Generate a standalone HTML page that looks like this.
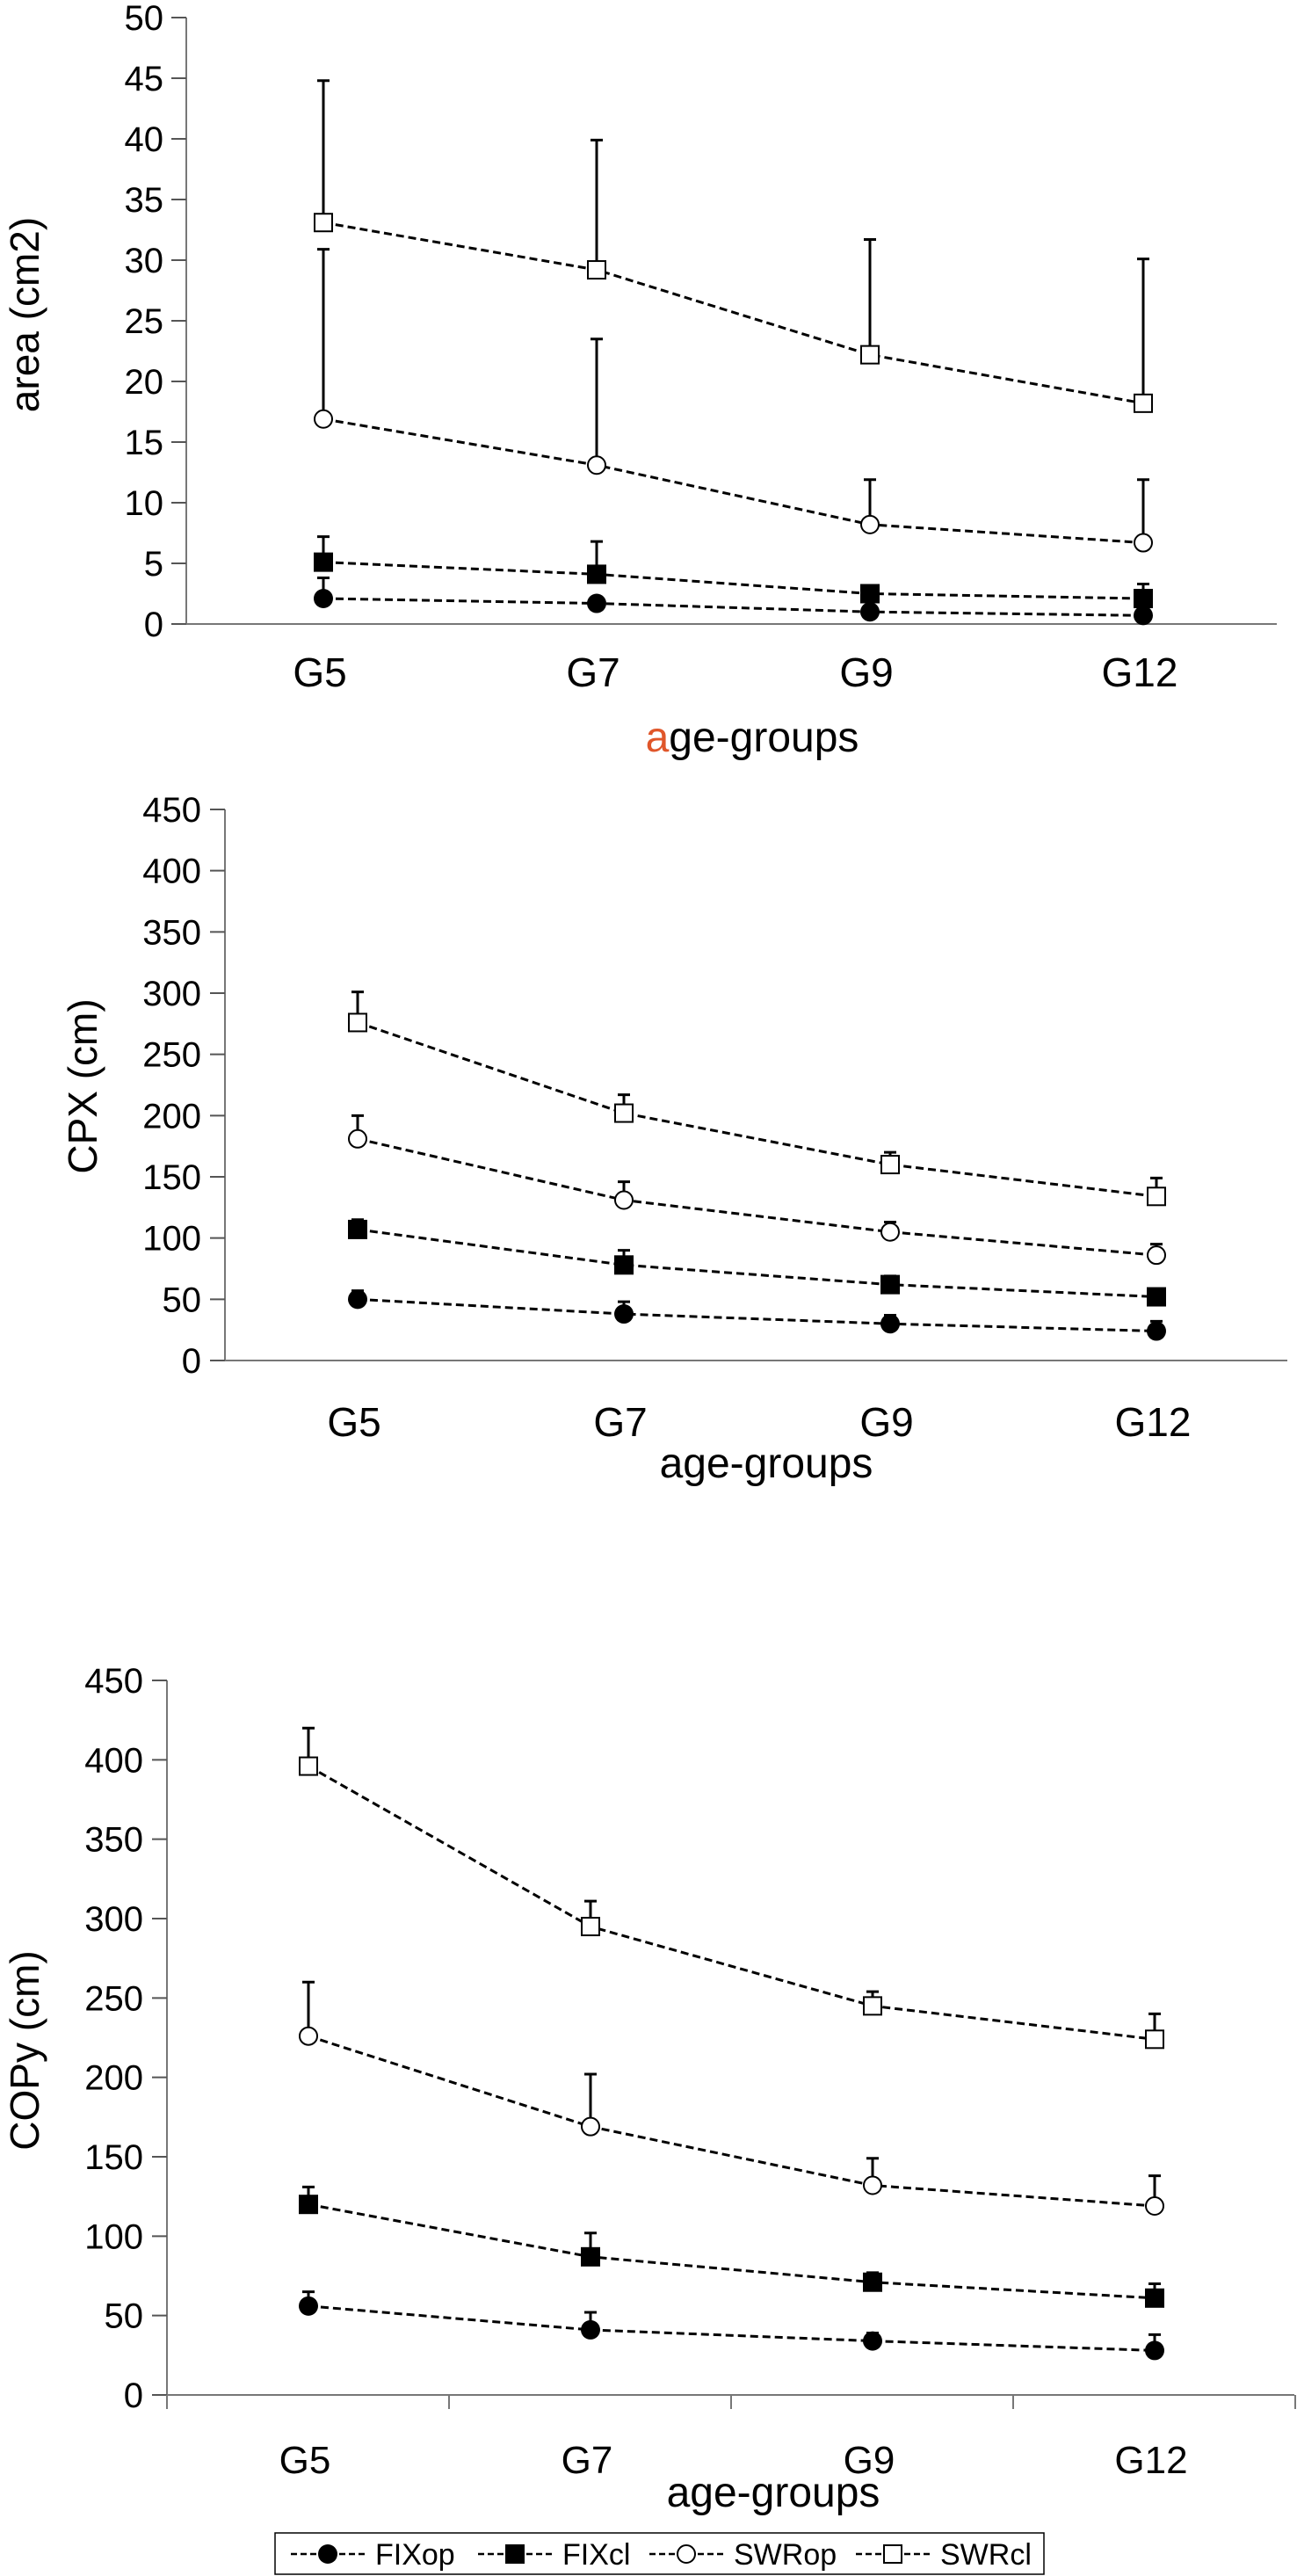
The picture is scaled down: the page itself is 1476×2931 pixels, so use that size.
<!DOCTYPE html>
<html><head><meta charset="utf-8"><style>
html,body{margin:0;padding:0;background:#fff;width:1476px;height:2931px;overflow:hidden}
svg{display:block}
text{font-family:"Liberation Sans",Arial,sans-serif;fill:#000}
</style></head><body>
<svg id="fig" width="1476" height="2931" viewBox="0 0 1476 2931" xmlns="http://www.w3.org/2000/svg"></svg>
<script>
const categories = ["G5","G7","G9","G12"];
const seriesNames = ["FIXop","FIXcl","SWRop","SWRcl"];
// chart 1: area (cm2)
const areaFIXop = [2.1,1.7,1.0,0.7];
const areaFIXopErr = [3.8,2.2,1.5,1.2];
const areaFIXcl = [5.1,4.1,2.5,2.1];
const areaFIXclErr = [7.2,6.8,3.1,3.3];
const areaSWRop = [16.9,13.1,8.2,6.7];
const areaSWRopErr = [30.9,23.5,11.9,11.9];
const areaSWRcl = [33.1,29.2,22.2,18.2];
const areaSWRclErr = [44.8,39.9,31.7,30.1];
const areaTicks = [0,5,10,15,20,25,30,35,40,45,50];
// chart 2: CPX (cm)
const cpxFIXop = [50,38,30,24];
const cpxFIXopErr = [57,48,37,32];
const cpxFIXcl = [107,78,62,52];
const cpxFIXclErr = [115,90,69,57];
const cpxSWRop = [181,131,105,86];
const cpxSWRopErr = [200,146,113,95];
const cpxSWRcl = [276,202,160,134];
const cpxSWRclErr = [301,217,170,149];
const cpxTicks = [0,50,100,150,200,250,300,350,400,450];
// chart 3: COPy (cm)
const copFIXop = [56,41,34,28];
const copFIXopErr = [65,52,39,38];
const copFIXcl = [120,87,71,61];
const copFIXclErr = [131,102,77,70];
const copSWRop = [226,169,132,119];
const copSWRopErr = [260,202,149,138];
const copSWRcl = [396,295,245,224];
const copSWRclErr = [420,311,254,240];
const copTicks = [0,50,100,150,200,250,300,350,400,450];

const NS="http://www.w3.org/2000/svg";
const svg=document.getElementById('fig');
function mk(tag,attrs,parent){const e=document.createElementNS(NS,tag);for(const k in attrs)e.setAttribute(k,attrs[k]);(parent||svg).appendChild(e);return e;}

function drawMarker(g,kind,x,y,s){
  let m;
  if(kind==="FIXop") m=mk('circle',{cx:x,cy:y,r:s/2,fill:'#000'},g);
  else if(kind==="FIXcl") m=mk('rect',{x:x-s/2,y:y-s/2,width:s,height:s,fill:'#000'},g);
  else if(kind==="SWRop") m=mk('circle',{cx:x,cy:y,r:s/2-1,fill:'#fff',stroke:'#000','stroke-width':2},g);
  else m=mk('rect',{x:x-s/2+1,y:y-s/2+1,width:s-2,height:s-2,fill:'#fff',stroke:'#000','stroke-width':2},g);
  return m;
}

function chart(cfg){
  const g=mk('g',{});
  
  
  const yS=v=>cfg.y0-(v-cfg.ticks[0])/(cfg.ticks[cfg.ticks.length-1]-cfg.ticks[0])*(cfg.y0-cfg.yTop);
  const xS=i=>cfg.cx0+i*cfg.step;
  // axes
  const ya=mk('line',{x1:cfg.ax,y1:cfg.yTop,x2:cfg.ax,y2:cfg.y0,stroke:'#777','stroke-width':2},g);
  
  
  const xa=mk('line',{x1:cfg.ax,y1:cfg.y0,x2:cfg.axEnd,y2:cfg.y0,stroke:'#777','stroke-width':2},g);
  
  
  cfg.ticks.forEach(t=>{
    const y=yS(t);
    mk('line',{x1:cfg.ax-17,y1:y,x2:cfg.ax,y2:y,stroke:'#555','stroke-width':2},g);
    const tx=mk('text',{x:cfg.tickRight,y:y+14,'text-anchor':'end','font-size':40},g);
    tx.textContent=t;
    
    
  });
  if(cfg.xTicks){
    for(let i=0;i<=categories.length;i++){
      const x=cfg.ax+i*cfg.step;
      mk('line',{x1:x,y1:cfg.y0,x2:x,y2:cfg.y0+16,stroke:'#777','stroke-width':2},g);
    }
  }
  categories.forEach((c,i)=>{
    const t=mk('text',{x:xS(i)-4,y:cfg.catY+15,'text-anchor':'middle','font-size':cfg.catFont},g);
    t.textContent=c;
    
    
  });
  const xt=mk('text',{x:cfg.xtX,y:cfg.xtY+14,'text-anchor':'middle','font-size':48},g);
  
  
  if(cfg.orangeA){xt.innerHTML='<tspan fill="#e0562a">a</tspan>ge-groups';}
  else xt.textContent='age-groups';
  const yt=mk('text',{x:0,y:0,'text-anchor':'middle','font-size':46,transform:`translate(${cfg.ytX+16},${cfg.ytY}) rotate(-90)`},g);
  yt.textContent=cfg.yTitle;
  
  
  // series
  cfg.series.forEach((s,si)=>{
    const sg=mk('g',{},g);
    
    
    const pts=s.v.map((v,i)=>xS(i)+','+yS(v)).join(' ');
    mk('polyline',{points:pts,fill:'none',stroke:'#000','stroke-width':3,'stroke-dasharray':'9 5'},sg);
    s.v.forEach((v,i)=>{
      const x=xS(i),y=yS(v),ye=yS(s.e[i]);
      const eb=mk('path',{d:`M${x},${y} V${ye} M${x-7},${ye} H${x+7}`,stroke:'#000','stroke-width':3,fill:'none'},sg);
      
      
    });
    s.v.forEach((v,i)=>{
      const m=drawMarker(sg,seriesNames[si],xS(i),yS(v),cfg.ms);
      
      
    });
  });
}

chart({name:'area-chart',ticks:areaTicks,y0:710,yTop:20,ax:212,axEnd:1453,cx0:368,step:311,tickRight:186,
  catY:766,catFont:46,xtX:856,xtY:841,ytX:28,ytY:358,yTitle:'area (cm2)',orangeA:true,ms:22,
  series:[{v:areaFIXop,e:areaFIXopErr},{v:areaFIXcl,e:areaFIXclErr},{v:areaSWRop,e:areaSWRopErr},{v:areaSWRcl,e:areaSWRclErr}]});
chart({name:'cpx-chart',ticks:cpxTicks,y0:1548,yTop:921,ax:256,axEnd:1465,cx0:407,step:303,tickRight:229,
  catY:1619,catFont:46,xtX:872,xtY:1667,ytX:94,ytY:1236,yTitle:'CPX (cm)',ms:22,
  series:[{v:cpxFIXop,e:cpxFIXopErr},{v:cpxFIXcl,e:cpxFIXclErr},{v:cpxSWRop,e:cpxSWRopErr},{v:cpxSWRcl,e:cpxSWRclErr}]});
chart({name:'copy-chart',ticks:copTicks,y0:2725,yTop:1912,ax:190,axEnd:1473,cx0:351,step:321,tickRight:163,xTicks:true,
  catY:2799,catFont:44,xtX:880,xtY:2838,ytX:28,ytY:2333,yTitle:'COPy (cm)',ms:22,
  series:[{v:copFIXop,e:copFIXopErr},{v:copFIXcl,e:copFIXclErr},{v:copSWRop,e:copSWRopErr},{v:copSWRcl,e:copSWRclErr}]});

// legend
const lg=mk('g',{});


mk('rect',{x:313,y:2882,width:875,height:47,fill:'#fff',stroke:'#000','stroke-width':1.5},lg);
const legX=[331,544,739,974];
seriesNames.forEach((n,i)=>{
  const eg=mk('g',{},lg);
  
  
  const x=legX[i],y=2906;
  mk('line',{x1:x,y1:y,x2:x+84,y2:y,stroke:'#000','stroke-width':2.5,'stroke-dasharray':'7 4'},eg);
  drawMarker(eg,n,x+42,y,22);
  const t=mk('text',{x:x+96,y:y+12,'font-size':34},eg);
  t.textContent=n;
});
</script>
</body></html>
